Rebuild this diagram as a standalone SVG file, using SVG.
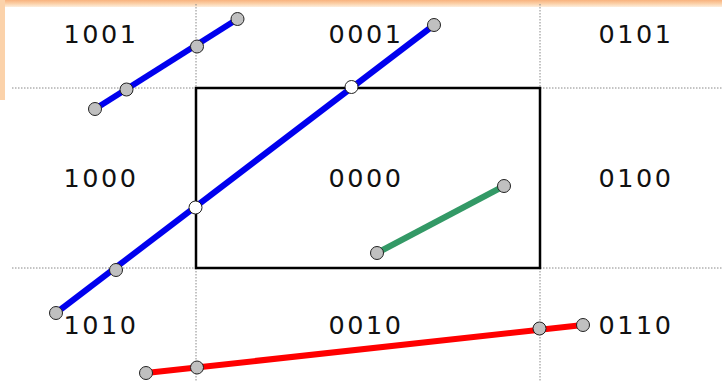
<svg xmlns="http://www.w3.org/2000/svg" width="722" height="381" viewBox="0 0 722 381">
<defs>
<linearGradient id="band" x1="0" y1="0" x2="0" y2="1">
<stop offset="0" stop-color="#f8b27e"/>
<stop offset="0.5" stop-color="#fbcfa6"/>
<stop offset="1" stop-color="#fdeedd"/>
</linearGradient>
</defs>
<style>
.grid{stroke:#888;stroke-width:1;stroke-dasharray:1.5 1.5;fill:none}
.box{stroke:#000;stroke-width:2.5;fill:none}
.seg{stroke-width:6;stroke-linecap:butt;fill:none}
.pt{fill:#c0c0c0;stroke:#222;stroke-width:1}
.ip{fill:#fff;stroke:#222;stroke-width:1}
.lbl{font-family:"DejaVu Sans",sans-serif;font-size:25.5px;letter-spacing:2.5px;fill:#111;text-anchor:middle}
</style>
<rect width="722" height="381" fill="#fff"/>
<rect x="0" y="0" width="722" height="7" fill="url(#band)"/>
<rect x="0" y="0" width="5" height="100" fill="#fbd2aa"/>
<g id="grid">
<line class="grid" x1="196" y1="4" x2="196" y2="381"/>
<line class="grid" x1="540" y1="4" x2="540" y2="381"/>
<line class="grid" x1="12" y1="88" x2="722" y2="88"/>
<line class="grid" x1="12" y1="268" x2="722" y2="268"/>
</g>
<g id="window"><rect class="box" x="196" y="88" width="344" height="180"/></g>
<g id="labels">
<text class="lbl" x="101" y="42.5">1001</text>
<text class="lbl" x="366" y="42.5">0001</text>
<text class="lbl" x="636" y="42.5">0101</text>
<text class="lbl" x="101" y="187">1000</text>
<text class="lbl" x="366" y="187">0000</text>
<text class="lbl" x="636" y="187">0100</text>
<text class="lbl" x="101" y="334">1010</text>
<text class="lbl" x="366" y="334">0010</text>
<text class="lbl" x="636" y="334">0110</text>
</g>
<g id="connectors">
<line class="seg" stroke="#0000ee" x1="95" y1="109" x2="237.5" y2="19"/>
<line class="seg" stroke="#0000ee" x1="56" y1="313" x2="434" y2="25"/>
<line class="seg" stroke="#339966" x1="377" y1="253" x2="504" y2="186"/>
<line class="seg" stroke="#ff0000" x1="146" y1="373" x2="583" y2="325"/>
</g>
<g id="seg1-points">
<circle class="pt" cx="95" cy="109" r="6.5"/>
<circle class="pt" cx="126.5" cy="89.5" r="6.5"/>
<circle class="pt" cx="197" cy="46.5" r="6.5"/>
<circle class="pt" cx="237.5" cy="19" r="6.5"/>
</g>
<g id="seg2-points">
<circle class="pt" cx="56" cy="313" r="6.5"/>
<circle class="pt" cx="116" cy="270" r="6.5"/>
<circle class="ip" cx="195.5" cy="207.5" r="6.5"/>
<circle class="ip" cx="351.5" cy="87" r="6.5"/>
<circle class="pt" cx="434" cy="25" r="6.5"/>
</g>
<g id="seg3-points">
<circle class="pt" cx="377" cy="253" r="6.5"/>
<circle class="pt" cx="504" cy="186" r="6.5"/>
</g>
<g id="seg4-points">
<circle class="pt" cx="146" cy="373" r="6.5"/>
<circle class="pt" cx="197" cy="367.5" r="6.5"/>
<circle class="pt" cx="539.5" cy="328.5" r="6.5"/>
<circle class="pt" cx="583" cy="325" r="6.5"/>
</g>
</svg>
